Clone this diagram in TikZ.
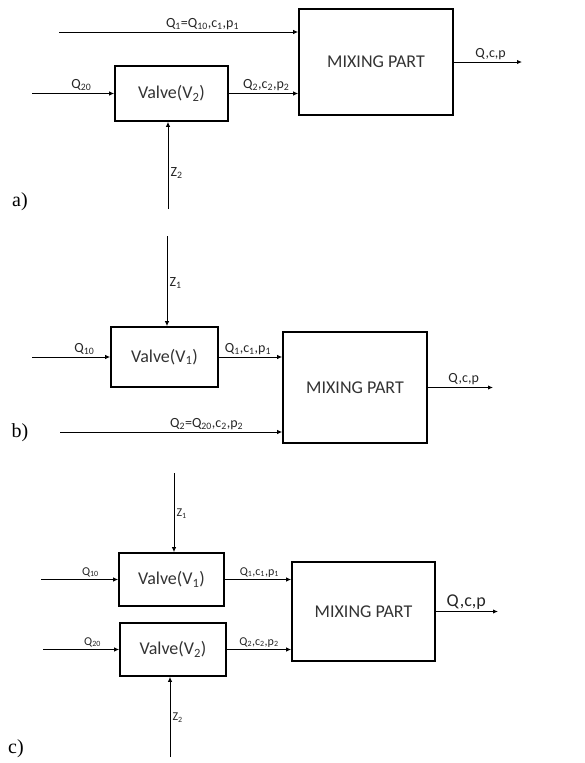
\documentclass[tikz,border=0pt]{standalone}
\usepackage{fontspec}
\setsansfont{Carlito}
\newfontfamily\tagfont{Liberation Serif}
\usetikzlibrary{arrows.meta,positioning,calc}
\newcommand{\sbs}[1]{\textsubscript{#1}}

\begin{document}
\begin{tikzpicture}[x=1pt,y=-1pt,
        blk/.style={draw, line width=1.6pt, inner sep=0pt, text=black!80,
            font=\sffamily\fontsize{18}{20}\selectfont},
        flow/.style={line width=1pt, -{Latex[length=5pt,width=4.5pt]}},
        lbl/.style={font=\sffamily\fontsize{14}{16}\selectfont, text=black!85, inner sep=2pt},
        small lbl/.style={lbl, font=\sffamily\fontsize{12}{14}\selectfont},
        tag/.style={font=\tagfont\fontsize{20}{22}\selectfont, inner sep=0pt}]
    \useasboundingbox (0,0) rectangle (584,763);
    % Part a
    \node[blk, minimum width=154pt, minimum height=106pt] (mixA) at (376,62) {MIXING PART};
    \node[blk, minimum width=113pt, minimum height=55pt] (valA) at (171.5,93.5) {Valve(V\sbs{2})};
    \coordinate (q1A) at (59,32);
    \coordinate (q20A) at (32,93.5);
    \coordinate (z2A) at (168,209);
    \coordinate (outA) at (522,62);
    \draw[flow] (q1A) -- (mixA.west |- q1A) node[lbl, above, pos=0.6] {Q\sbs{1}=Q\sbs{10},c\sbs{1},p\sbs{1}};
    \draw[flow] (q20A) -- (valA.west) node[lbl, above, pos=0.6] {Q\sbs{20}};
    \draw[flow] (valA.east) -- (mixA.west |- valA.east) node[lbl, above, pos=0.54] {Q\sbs{2},c\sbs{2},p\sbs{2}};
    \draw[flow] (z2A) -- (valA.south -| z2A) node[lbl, right, pos=0.41] {Z\sbs{2}};
    \draw[flow] (mixA.east) -- (outA) node[lbl, above, pos=0.54] {Q,c,p};
    \node[tag] (tagA) at (20,202) {a)};
    % Part b
    \node[blk, minimum width=144pt, minimum height=111pt] (mixB) at (355,387.5) {MIXING PART};
    \node[blk, minimum width=107pt, minimum height=60pt] (valB) at (164.5,357) {Valve(V\sbs{1})};
    \coordinate (z1B) at (167,236);
    \coordinate (q10B) at (32,357);
    \coordinate (q2B) at (60,432);
    \coordinate (outB) at (493,387.5);
    \draw[flow] (z1B) -- (valB.north -| z1B) node[lbl, right, pos=0.52] {Z\sbs{1}};
    \draw[flow] (q10B) -- (valB.west) node[lbl, above, pos=0.67] {Q\sbs{10}};
    \draw[flow] (valB.east) -- (mixB.west |- valB.east) node[lbl, above, pos=0.46] {Q\sbs{1},c\sbs{1},p\sbs{1}};
    \draw[flow] (q2B) -- (mixB.west |- q2B) node[lbl, above, pos=0.66] {Q\sbs{2}=Q\sbs{20},c\sbs{2},p\sbs{2}};
    \draw[flow] (mixB.east) -- (outB) node[lbl, above, pos=0.55] {Q,c,p};
    \node[tag] (tagB) at (20,433) {b)};
    % Part c
    \node[blk, minimum width=143pt, minimum height=99pt] (mixC) at (363.5,611.5) {MIXING PART};
    \node[blk, minimum width=105pt, minimum height=53pt] (valC1) at (171.5,579.5) {Valve(V\sbs{1})};
    \node[blk, minimum width=106pt, minimum height=53pt] (valC2) at (173,649.5) {Valve(V\sbs{2})};
    \coordinate (z1C) at (174,473);
    \coordinate (z2C) at (170,757);
    \coordinate (q10C) at (41,579.5);
    \coordinate (q20C) at (43,649.5);
    \coordinate (outC) at (498,611.5);
    \draw[flow] (z1C) -- (valC1.north -| z1C) node[small lbl, right, pos=0.51] {Z\sbs{1}};
    \draw[flow] (q10C) -- (valC1.west) node[small lbl, above, pos=0.64] {Q\sbs{10}};
    \draw[flow] (valC1.east) -- (mixC.west |- valC1.east) node[small lbl, above, pos=0.52] {Q\sbs{1},c\sbs{1},p\sbs{1}};
    \draw[flow] (q20C) -- (valC2.west) node[small lbl, above, pos=0.65] {Q\sbs{20}};
    \draw[flow] (valC2.east) -- (mixC.west |- valC2.east) node[small lbl, above, pos=0.5] {Q\sbs{2},c\sbs{2},p\sbs{2}};
    \draw[flow] (z2C) -- (valC2.south -| z2C) node[small lbl, right, pos=0.49] {Z\sbs{2}};
    \draw[flow] (mixC.east) -- (outC) node[lbl, above, pos=0.49, font=\sffamily\fontsize{18}{20}\selectfont] {Q,c,p};
    \node[tag] (tagC) at (16,749) {c)};
\end{tikzpicture}
\end{document}
